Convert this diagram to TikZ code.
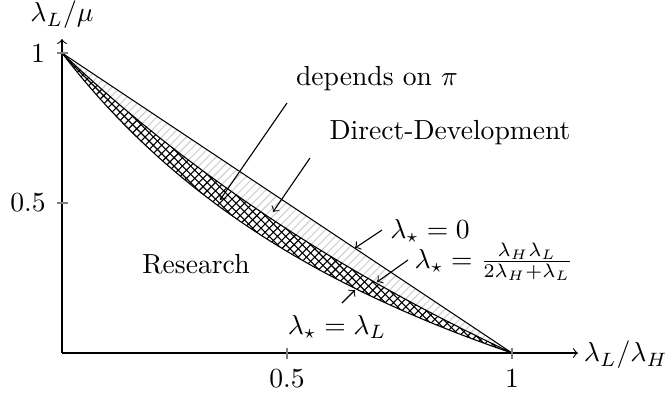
\documentclass[tikz,border=0pt]{standalone}
\usetikzlibrary{patterns}
\begin{document}
\begin{tikzpicture}[x=0.3623pt,y=-0.3623pt,
  declare function={fa(\t)=(1-\t)/(1+0.42*\t); fb(\t)=(1-\t)/(1+0.95*\t);},
  axisline/.style={line width=0.4pt,->},
  tickmark/.style={line width=0.4pt,gray},
  curve/.style={line width=0.4pt,black},
  pointer/.style={line width=0.4pt,->},
  lab/.style={inner sep=0pt,anchor=center}]
\useasboundingbox (0,0) rectangle (671,398);
% regions
\fill[pattern=north east lines,pattern color=gray!35] (62,53) -- (512,353)
  -- plot[domain=1:0,samples=80] ({62+450*\x},{353-300*fa(\x)}) -- cycle;
\fill[pattern=crosshatch,pattern color=black] plot[domain=0:1,samples=80] ({62+450*\x},{353-300*fa(\x)})
  -- plot[domain=1:0,samples=80] ({62+450*\x},{353-300*fb(\x)}) -- cycle;
% boundaries
\coordinate (top) at (62,53);
\coordinate (end) at (512,353);
\draw[curve] (top) -- (end);
\draw[curve] plot[domain=0:1,samples=80] ({62+450*\x},{353-300*fa(\x)});
\draw[curve] plot[domain=0:1,samples=80] ({62+450*\x},{353-300*fb(\x)});
% axes
\coordinate (O) at (62,353);
\coordinate (xend) at (578,353);
\coordinate (yend) at (62,39);
\draw[axisline] (O) -- (xend);
\draw[axisline] (O) -- (yend);
\draw[tickmark] (56.5,53) -- (67.5,53);
\draw[tickmark] (56.5,203) -- (67.5,203);
\draw[tickmark] (287,347.5) -- (287,358.5);
\draw[tickmark] (512,347.5) -- (512,358.5);
\node[lab] (ylab) at (62,15) {$\lambda_L/\mu$};
\node[lab,anchor=east] (xlab) at (668,355) {$\lambda_L/\lambda_H$};
\node[lab] (y1) at (38,54) {$1$};
\node[lab] (y05) at (28,203) {$0.5$};
\node[lab] (x05) at (287,379) {$0.5$};
\node[lab] (x1) at (512,379) {$1$};
% labels
\node[lab] (dep) at (377,79) {depends on $\pi$};
\node[lab] (dd) at (450,133) {Direct-Development};
\node[lab] (res) at (196,264) {Research};
\node[lab] (l0) at (430,231) {$\lambda_\star = 0$};
\node[lab] (lf) at (494,262) {$\lambda_\star = \frac{\lambda_H\lambda_L}{2\lambda_H+\lambda_L}$};
\node[lab] (lL) at (337,327) {$\lambda_\star = \lambda_L$};
% pointers
\coordinate (depS) at (287,103); \coordinate (depE) at (220,200);
\coordinate (ddS) at (310,158); \coordinate (ddE) at (273,212);
\coordinate (l0S) at (382,230); \coordinate (l0E) at (355,248);
\coordinate (lfS) at (408,260); \coordinate (lfE) at (377,282);
\coordinate (lLS) at (342,303); \coordinate (lLE) at (355,290);
\draw[pointer] (depS) -- (depE);
\draw[pointer] (ddS) -- (ddE);
\draw[pointer] (l0S) -- (l0E);
\draw[pointer] (lfS) -- (lfE);
\draw[pointer] (lLS) -- (lLE);
\end{tikzpicture}
\end{document}
